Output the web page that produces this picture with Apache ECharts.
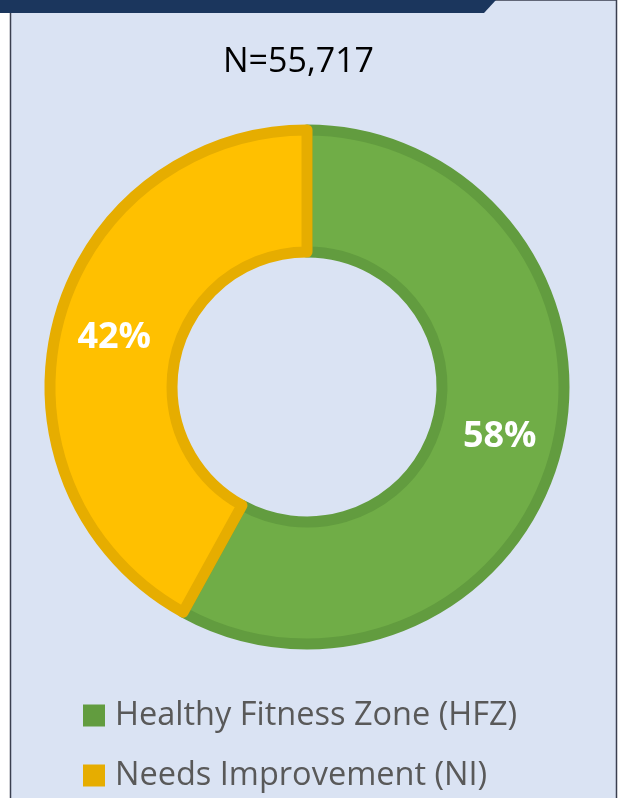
<!DOCTYPE html>
<html>
<head>
<meta charset="utf-8">
<script src="https://cdn.jsdelivr.net/npm/echarts@6/dist/echarts.min.js"></script>
<style>
	html, body { margin: 0; padding: 0; background: #fff; }
	#chart { width: 621px; height: 798px; }
</style>
</head>
<body>
<div id="chart"></div>
<script>
	// values
	var categories = ['Healthy Fitness Zone (HFZ)', 'Needs Improvement (NI)'];
	var shares = [58, 42];
	var totalLabel = 'N=55,717';

	var fills = ['#70ad47', '#ffc000'];
	var edges = ['#629c3f', '#e6ad00'];

	var myChart = echarts.init(document.getElementById('chart'));

	var option = {
		backgroundColor: '#ffffff',
		animation: false,
		graphic: [
			// panel
			{
				type: 'rect', z: 0,
				shape: { x: 10.5, y: 0, width: 606, height: 800 },
				style: { fill: '#dae3f3', stroke: '#3a3f4f', lineWidth: 1.5 }
			},
			// navy band at top
			{
				type: 'polygon', z: 1,
				shape: { points: [[0, 0], [496, 0], [484, 13], [0, 13]] },
				style: { fill: '#1b365d' }
			},
			{
				type: 'text', z: 2,
				left: 223, top: 45,
				style: {
					text: totalLabel,
					font: '34px "Open Sans", sans-serif',
					fill: '#000000'
				}
			}
		],
		legend: {
			orient: 'vertical',
			left: 83,
			top: 699,
			padding: 0,
			itemGap: 27,
			itemWidth: 22,
			itemHeight: 22,
			icon: 'rect',
			selectedMode: false,
			textStyle: {
				fontFamily: 'Open Sans',
				fontSize: 32.5,
				color: '#595959',
				padding: [0, 0, 0, 5]
			},
			data: categories.map(function (name, i) {
				return { name: name, itemStyle: { color: edges[i], borderWidth: 0 } };
			})
		},
		series: [{
			type: 'pie',
			center: [307, 387],
			radius: [135, 257],
			startAngle: 90,
			clockwise: true,
			avoidLabelOverlap: false,
			label: {
				show: true,
				position: 'inside',
				formatter: '{c}%',
				color: '#ffffff',
				fontFamily: 'Open Sans',
				fontWeight: 'bold',
				fontSize: 36
			},
			labelLine: { show: false },
			emphasis: { disabled: true },
			data: categories.map(function (name, i) {
				return {
					name: name,
					value: shares[i],
					itemStyle: { color: fills[i], borderColor: edges[i], borderWidth: 11 }
				};
			})
		}]
	};

	myChart.setOption(option);
</script>
</body>
</html>
